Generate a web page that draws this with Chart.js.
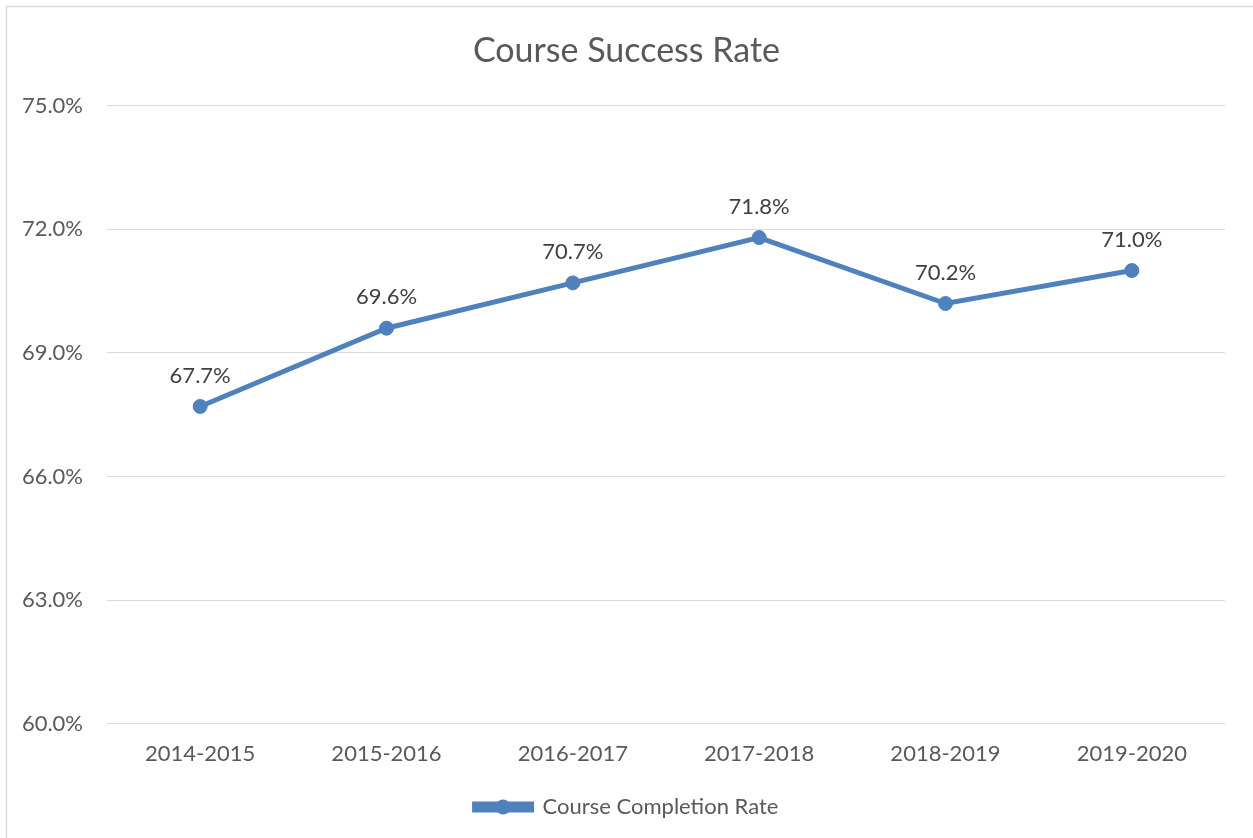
<!DOCTYPE html>
<html>
<head>
<meta charset="utf-8">
<script src="https://cdn.jsdelivr.net/npm/chart.js@4.4.1/dist/chart.umd.min.js"></script>
<style>
    body { margin: 0; background: #ffffff; }
    #wrap { position: relative; width: 1253px; height: 838px; overflow: hidden; }
</style>
</head>
<body>
<div id="wrap">
    <canvas id="myChart" width="1253" height="838"></canvas>
</div>
<script>
var Labels = ['2014-2015', '2015-2016', '2016-2017', '2017-2018', '2018-2019', '2019-2020'];
var CompletionRate = [67.7, 69.6, 70.7, 71.8, 70.2, 71.0];
var YTicks = [60, 63, 66, 69, 72, 75];

var FontName = 'Lato, "Open Sans", sans-serif';
var LineColor = '#4F81BD';

// chart frame like the office chart box
var framePlugin = {
    id: 'frame',
    beforeDraw: function (chart) {
        var c = chart.ctx;
        c.save();
        c.fillStyle = '#ffffff';
        c.fillRect(0, 0, chart.width, chart.height);
        c.strokeStyle = '#d9d9d9';
        c.lineWidth = 1.5;
        c.beginPath();
        c.moveTo(6.5, chart.height + 5);
        c.lineTo(6.5, 6.5);
        c.lineTo(chart.width + 5, 6.5);
        c.stroke();
        c.restore();
    }
};

// value labels above each point
var valueLabels = {
    id: 'valueLabels',
    afterDatasetsDraw: function (chart) {
        var c = chart.ctx;
        var meta = chart.getDatasetMeta(0);
        c.save();
        c.font = '22px ' + FontName;
        c.fillStyle = '#404040';
        c.textAlign = 'center';
        c.textBaseline = 'middle';
        meta.data.forEach(function (pt, i) {
            c.fillText(CompletionRate[i].toFixed(1) + '%', pt.x, pt.y - 31);
        });
        c.restore();
    }
};

// dot in the middle of the legend line sample
var legendDot = {
    id: 'legendDot',
    afterDraw: function (chart) {
        var lg = chart.legend;
        if (!lg || !lg.legendHitBoxes) return;
        var c = chart.ctx;
        c.save();
        c.fillStyle = LineColor;
        lg.legendHitBoxes.forEach(function (box) {
            var bw = lg.options.labels.boxWidth;
            c.beginPath();
            c.arc(box.left + bw / 2, box.top + box.height / 2, 7.5, 0, Math.PI * 2);
            c.fill();
        });
        c.restore();
    }
};

var ctx = document.getElementById('myChart').getContext('2d');
var myChart = new Chart(ctx, {
    type: 'line',
    data: {
        labels: Labels,
        datasets: [{
            label: 'Course Completion Rate',
            data: CompletionRate,
            borderColor: LineColor,
            backgroundColor: LineColor,
            pointBackgroundColor: LineColor,
            pointBorderColor: LineColor,
            borderWidth: 5,
            pointRadius: 7,
            pointBorderWidth: 1,
            tension: 0,
            fill: false
        }]
    },
    options: {
        responsive: false,
        devicePixelRatio: 1,
        animation: false,
        layout: {
            padding: { left: 0, right: 0, top: 0, bottom: 10 }
        },
        plugins: {
            title: {
                display: true,
                text: 'Course Success Rate',
                color: '#595959',
                font: { family: FontName, size: 34, weight: 'normal' },
                padding: { top: 31, bottom: 34 }
            },
            legend: {
                position: 'bottom',
                labels: {
                    color: '#595959',
                    font: { family: FontName, size: 22 },
                    boxWidth: 57,
                    boxHeight: 6,
                    padding: 10
                }
            },
            tooltip: { enabled: false }
        },
        scales: {
            x: {
                offset: true,
                grid: { display: false },
                border: { display: false },
                afterFit: function (scale) {
                    scale.height += 10;
                },
                ticks: {
                    color: '#595959',
                    font: { family: FontName, size: 22 },
                    padding: 9,
                    maxRotation: 0
                }
            },
            y: {
                min: 60,
                max: 75,
                afterBuildTicks: function (scale) {
                    scale.ticks = YTicks.map(function (v) { return { value: v }; });
                },
                afterFit: function (scale) {
                    scale.width = 107;
                },
                grid: { color: '#d9d9d9', lineWidth: 1, drawTicks: false },
                border: { display: false },
                ticks: {
                    color: '#595959',
                    font: { family: FontName, size: 22 },
                    padding: 24,
                    callback: function (v) { return v.toFixed(1) + '%'; }
                }
            },
            // empty right axis, only keeps the right margin so title and legend stay centred on the page
            yRight: {
                position: 'right',
                min: 60,
                max: 75,
                grid: { display: false },
                border: { display: false },
                ticks: { display: false },
                afterFit: function (scale) {
                    scale.width = 28;
                }
            }
        }
    },
    plugins: [framePlugin, valueLabels, legendDot]
});
</script>
</body>
</html>
